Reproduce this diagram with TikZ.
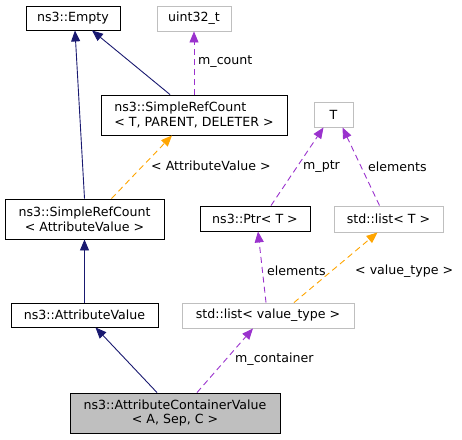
\documentclass[tikz,border=0pt]{standalone}
\usepackage{fontspec}
\setmainfont{DejaVu Sans}
\usepackage{xcolor}
\usepackage{tikz}
\usetikzlibrary{arrows.meta,positioning}

\definecolor{edgenavy}{HTML}{191970}
\definecolor{edgepurple}{HTML}{9A32CD}
\definecolor{edgeorange}{HTML}{FFA500}
\definecolor{boxgray}{HTML}{BFBFBF}

\begin{document}
\begin{tikzpicture}[x=1pt, y=-1pt,
    cls/.style={draw=black, line width=0.9pt, inner sep=0pt, align=center,
        font=\fontsize{12.6}{14.7}\selectfont},
    ext/.style={cls, draw=boxgray},
    lbl/.style={anchor=west, inner sep=0pt, font=\fontsize{12.6}{14.7}\selectfont},
    inherit/.style={edgenavy, line width=0.9pt, -{Triangle[length=11pt,width=9pt]}},
    member/.style={edgepurple, line width=0.9pt, dash pattern=on 6pt off 4pt,
        -{Triangle[length=11pt,width=9pt]}},
    tmpl/.style={edgeorange, line width=0.9pt, dash pattern=on 6pt off 4pt,
        -{Triangle[length=11pt,width=9pt]}}]
    \useasboundingbox (0,0) rectangle (462,439);

    % Classes
    \node[cls, minimum width=94pt, minimum height=24pt] (empty) at (73,18) {ns3::Empty};
    \node[ext, minimum width=74pt, minimum height=25pt] (uint) at (194,18.5) {uint32\_t};
    \node[cls, minimum width=186pt, minimum height=40pt, align=left] (srctpd) at (194,115)
        {ns3::SimpleRefCount\\< T, PARENT, DELETER >};
    \node[ext, minimum width=39pt, minimum height=25pt] (tparam) at (333.5,114.5) {T};
    \node[cls, minimum width=159pt, minimum height=40pt] (srcav) at (84.5,219)
        {ns3::SimpleRefCount\\< AttributeValue >};
    \node[cls, minimum width=110pt, minimum height=25pt] (ptr) at (255,218.5) {ns3::Ptr< T >};
    \node[ext, minimum width=109pt, minimum height=26pt] (listt) at (388.5,219) {std::list< T >};
    \node[cls, minimum width=147pt, minimum height=24pt] (attrval) at (84.5,315) {ns3::AttributeValue};
    \node[ext, minimum width=172pt, minimum height=25pt] (listvt) at (268,315.5) {std::list< value\_type >};
    \node[cls, fill=boxgray, minimum width=210pt, minimum height=40pt] (acv) at (175,413)
        {ns3::AttributeContainerValue\\< A, Sep, C >};

    % Inheritance
    \draw[inherit] (srcav.north) -- ([xshift=2pt]empty.south);
    \draw[inherit] ([xshift=-24pt]srctpd.north) -- ([xshift=19pt]empty.south);
    \draw[inherit] (attrval.north) -- (srcav.south);
    \draw[inherit] ([xshift=-18pt]acv.north) -- ([xshift=11pt]attrval.south);

    % Members
    \draw[member] (srctpd.north) -- (uint.south);
    \draw[member] ([xshift=16pt]ptr.north) -- ([xshift=-10pt]tparam.south);
    \draw[member] ([xshift=-9pt]listt.north) -- ([xshift=9pt]tparam.south);
    \draw[member] ([xshift=-2pt]listvt.north) -- ([xshift=3pt]ptr.south);
    \draw[member] ([xshift=22pt]acv.north) -- ([xshift=-15pt]listvt.south);

    % Template instances
    \draw[tmpl] ([xshift=27pt]srcav.north) -- ([xshift=-22pt]srctpd.south);
    \draw[tmpl] ([xshift=26pt]listvt.north) -- ([xshift=-11pt]listt.south);

    % Labels
    \node[lbl] (lcount) at (198,62) {m\_count};
    \node[lbl] (lav) at (151,166) {< AttributeValue >};
    \node[lbl] (lptr) at (303,167) {m\_ptr};
    \node[lbl] (lelemt) at (368,167) {elements};
    \node[lbl] (lelemp) at (267,271) {elements};
    \node[lbl] (lvt) at (355,271) {< value\_type >};
    \node[lbl] (lcont) at (235,359) {m\_container};
\end{tikzpicture}
\end{document}
